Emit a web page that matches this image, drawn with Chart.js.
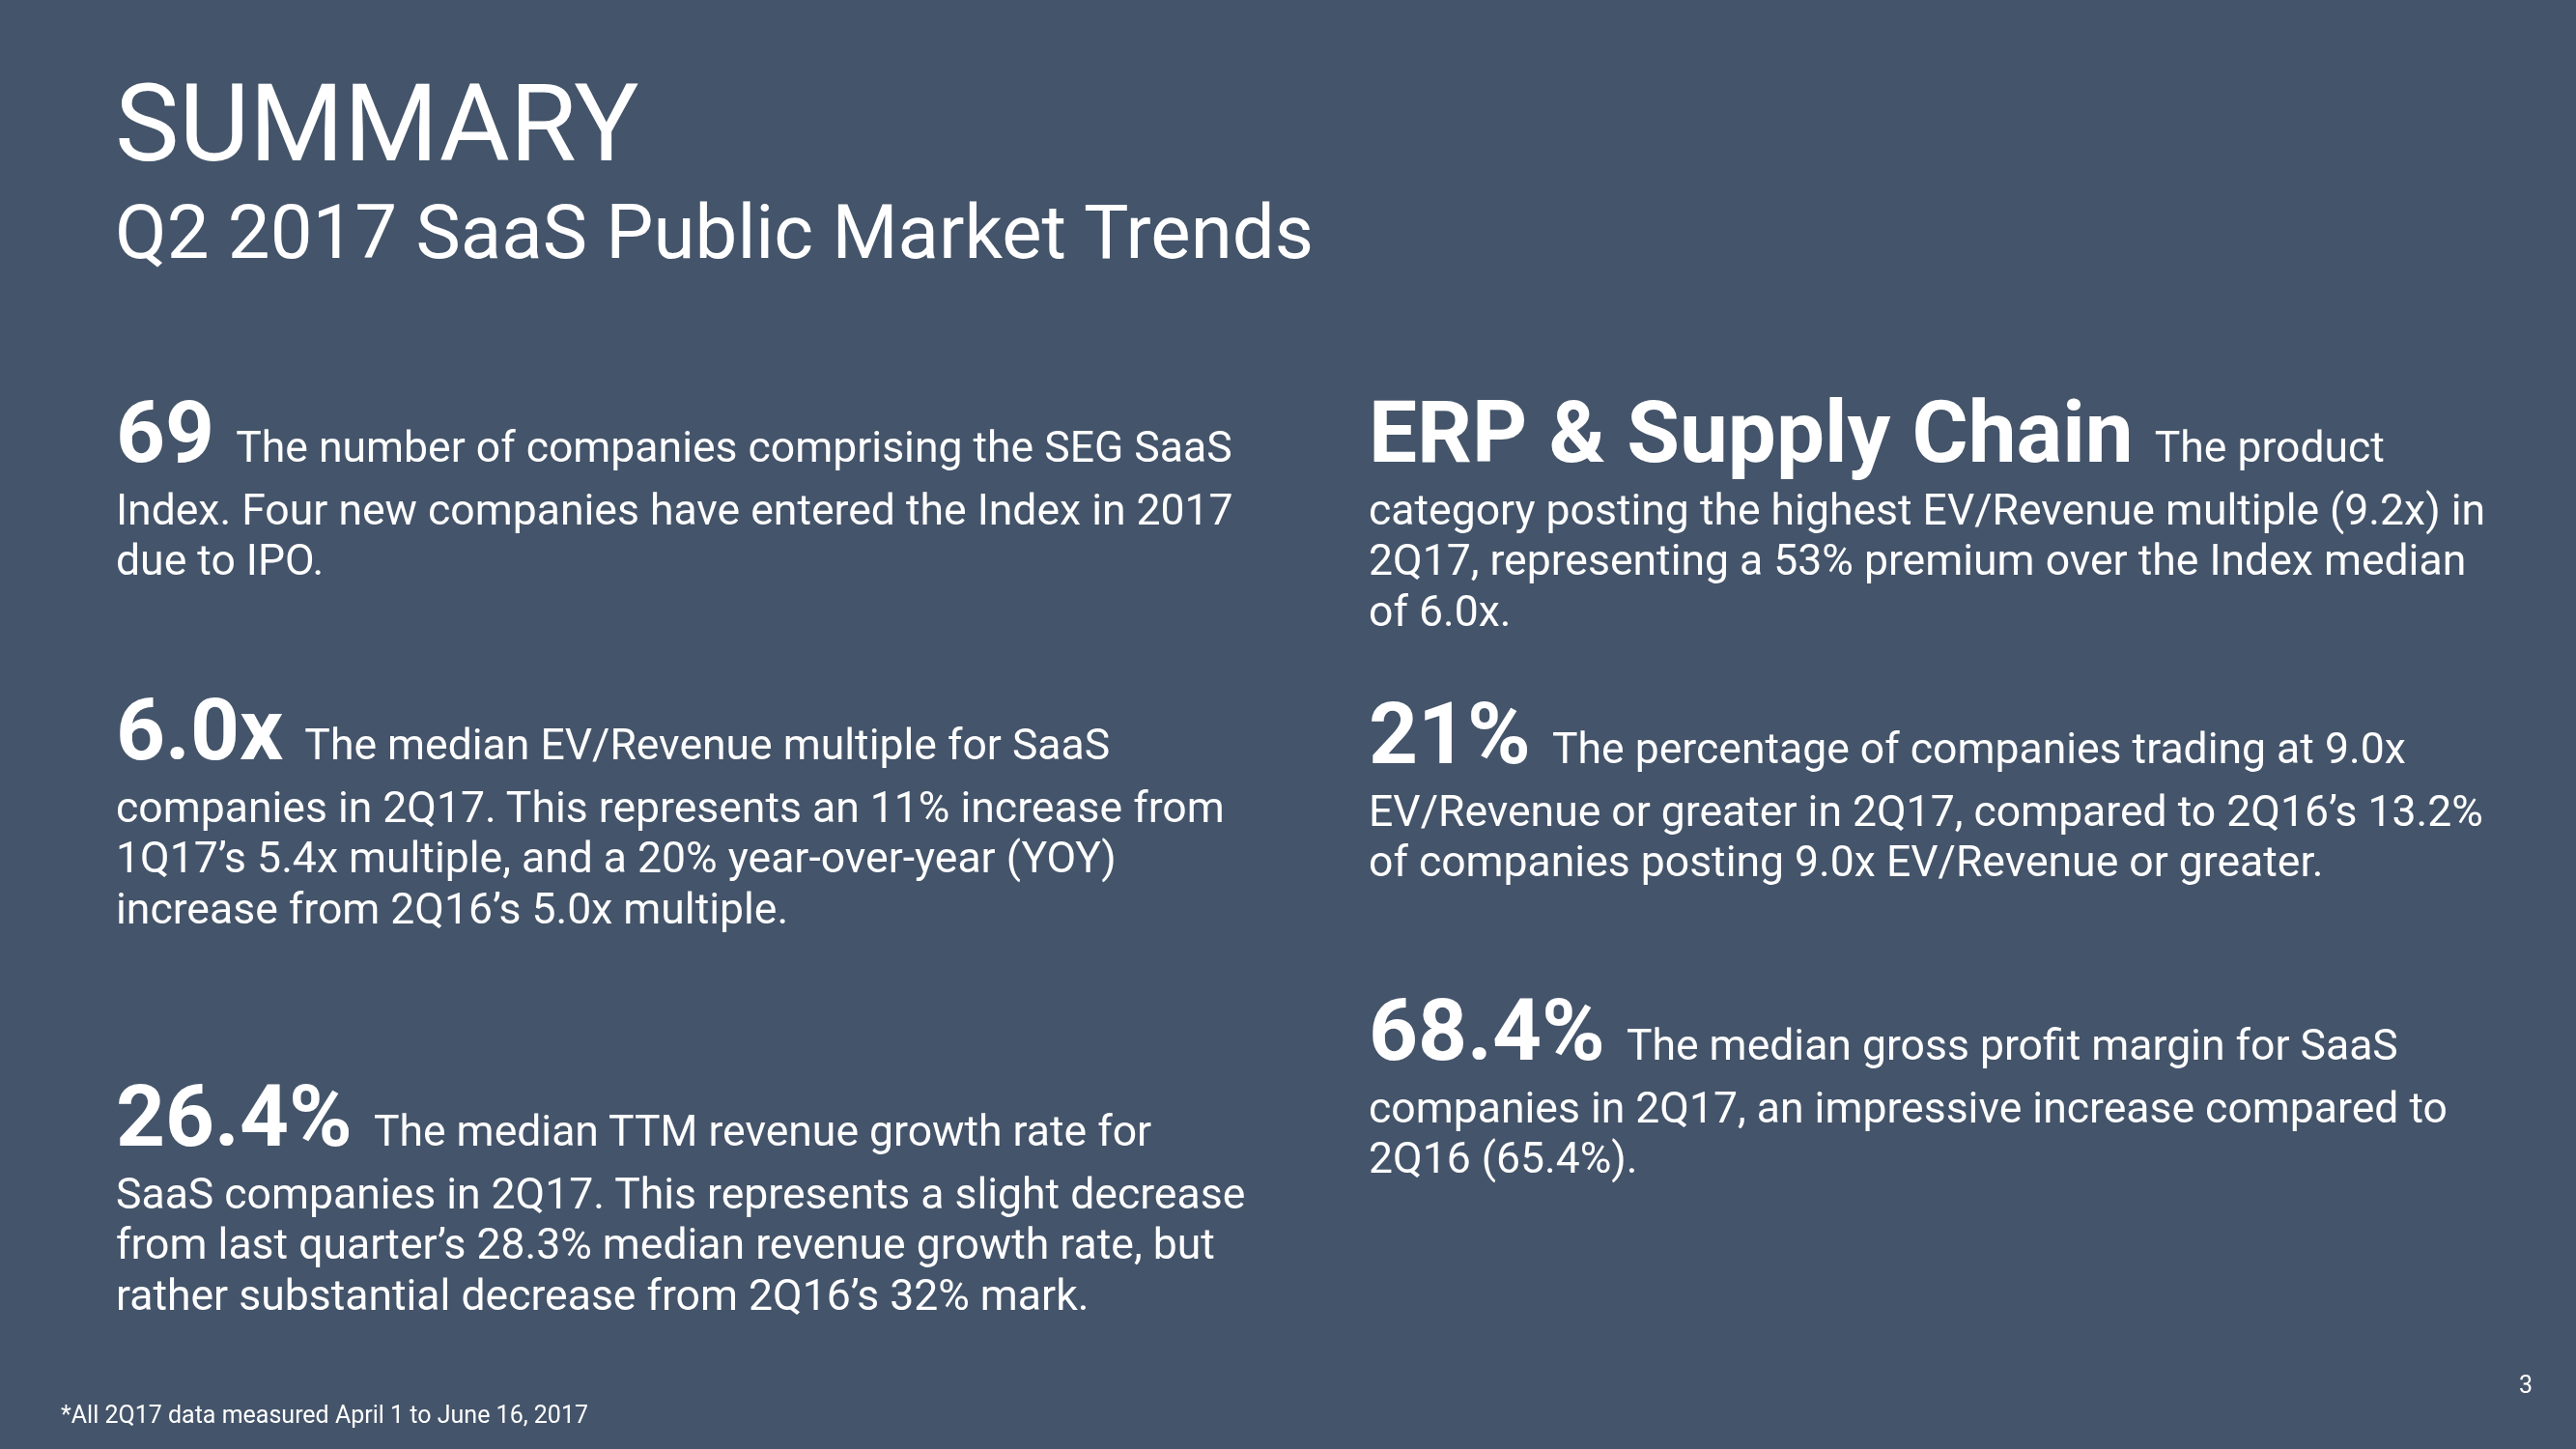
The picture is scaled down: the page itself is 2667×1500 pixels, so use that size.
<!DOCTYPE html>
<html>
<head>
<meta charset="utf-8">
<title>Summary - Q2 2017 SaaS Public Market Trends</title>
<script src="https://cdn.jsdelivr.net/npm/chart.js@4.4.0/dist/chart.umd.min.js"></script>
<style>
  html, body { margin: 0; padding: 0; }
  body { width: 2667px; height: 1500px; background: #44546a; overflow: hidden; }
  #slide { position: relative; width: 2667px; height: 1500px; font-family: Roboto, "Noto Sans", sans-serif; color: #fff; }
  #bg { position: absolute; left: 0; top: 0; }
  .line { position: absolute; white-space: nowrap; line-height: 1; }
  .title { font-size: 112px; font-weight: 400; }
  .subtitle { font-size: 78px; font-weight: 400; }
  .fig { font-size: 89px; font-weight: 700; }
  .body { font-size: 44.5px; font-weight: 400; }
  .note { font-size: 25px; font-weight: 400; }
</style>
</head>
<body>
<div id="slide">
  <canvas id="bg" width="2667" height="1500"></canvas>
</div>
<script>
// slide text
const slideTitle = "SUMMARY";
const slideSubtitle = "Q2 2017 SaaS Public Market Trends";
const footnote = "*All 2Q17 data measured April 1 to June 16, 2017";
const pageNumber = "3";

// headline figures, left column then right column
const statFigures = ["69", "6.0x", "26.4%", "ERP & Supply Chain", "21%", "68.4%"];

// text after each figure, one entry per printed line
const statLines = [
  ["The number of companies comprising the SEG SaaS",
   "Index. Four new companies have entered the Index in 2017",
   "due to IPO."],
  ["The median EV/Revenue multiple for SaaS",
   "companies in 2Q17. This represents an 11% increase from",
   "1Q17\u2019s 5.4x multiple, and a 20% year-over-year (YOY)",
   "increase from 2Q16\u2019s 5.0x multiple."],
  ["The median TTM revenue growth rate for",
   "SaaS companies in 2Q17. This represents a slight decrease",
   "from last quarter\u2019s 28.3% median revenue growth rate, but",
   "rather substantial decrease from 2Q16\u2019s 32% mark."],
  ["The product",
   "category posting the highest EV/Revenue multiple (9.2x) in",
   "2Q17, representing a 53% premium over the Index median",
   "of 6.0x."],
  ["The percentage of companies trading at 9.0x",
   "EV/Revenue or greater in 2Q17, compared to 2Q16\u2019s 13.2%",
   "of companies posting 9.0x EV/Revenue or greater."],
  ["The median gross profit margin for SaaS",
   "companies in 2Q17, an impressive increase compared to",
   "2Q16 (65.4%)."]
];

// layout: left edge and first baseline of each block
const blockX = [120, 120, 120, 1417, 1417, 1417];
const blockBaseline = [478, 786, 1186, 478, 790, 1097];
const firstGap = 64.5;
const lineGap = 52.5;

const slide = document.getElementById("slide");

// put a line of text so its baseline lands on y
function placeLine(parts, x, baseline, alignRight) {
  const el = document.createElement("div");
  el.className = "line";
  parts.forEach(p => {
    const s = document.createElement("span");
    s.className = p.cls;
    s.textContent = p.text;
    el.appendChild(s);
  });
  const mark = document.createElement("span");
  mark.style.cssText = "display:inline-block;width:0;height:0;vertical-align:baseline;";
  el.appendChild(mark);
  el.style.top = "0px";
  if (alignRight) el.style.right = x + "px"; else el.style.left = x + "px";
  slide.appendChild(el);
  const b = mark.getBoundingClientRect().top - el.getBoundingClientRect().top;
  el.style.top = (baseline - b) + "px";
}

// background drawn by Chart.js
const slideBackground = {
  id: "slideBackground",
  beforeDraw(chart) {
    const ctx = chart.ctx;
    ctx.save();
    ctx.fillStyle = "#44546a";
    ctx.fillRect(0, 0, chart.width, chart.height);
    ctx.restore();
  }
};

new Chart(document.getElementById("bg"), {
  type: "bar",
  data: { labels: [], datasets: [] },
  options: {
    responsive: false,
    animation: false,
    devicePixelRatio: 1,
    plugins: { legend: { display: false }, tooltip: { enabled: false } },
    scales: { x: { display: false }, y: { display: false } }
  },
  plugins: [slideBackground]
});

placeLine([{ cls: "title", text: slideTitle }], 119, 166);
placeLine([{ cls: "subtitle", text: slideSubtitle }], 119, 267);

statFigures.forEach((fig, i) => {
  const lines = statLines[i];
  let y = blockBaseline[i];
  placeLine([
    { cls: "fig", text: fig + " " },
    { cls: "body", text: lines[0] }
  ], blockX[i], y);
  y += firstGap;
  for (let k = 1; k < lines.length; k++) {
    placeLine([{ cls: "body", text: lines[k] }], blockX[i], y);
    y += lineGap;
  }
});

placeLine([{ cls: "note", text: footnote }], 63, 1473);
placeLine([{ cls: "note", text: pageNumber }], 45, 1442, true);
</script>
</body>
</html>
